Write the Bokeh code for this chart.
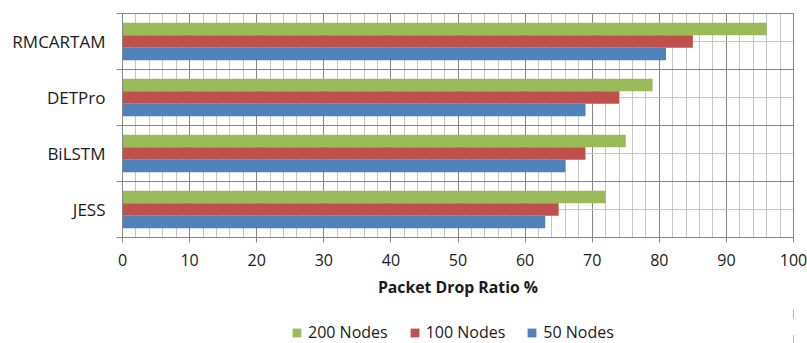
from bokeh.plotting import figure
from bokeh.layouts import column
from bokeh.models import (FactorRange, Range1d, LinearAxis, CategoricalAxis, FixedTicker,
                          SingleIntervalTicker, Legend, LegendItem, ColumnDataSource)
from bokeh.transform import dodge
from bokeh.embed import file_html
from bokeh.resources import INLINE

categories = ["RMCARTAM", "DETPro", "BiLSTM", "JESS"]
nodes_200 = [96, 79, 75, 72]
nodes_100 = [85, 74, 69, 65]
nodes_50 = [81, 69, 66, 63]
series_names = ["200 Nodes", "100 Nodes", "50 Nodes"]
series_fields = ["n200", "n100", "n50"]
series_colors = ["#9bbb59", "#c0504d", "#4f81bd"]

FONT = "Open Sans"
MAJOR = "#878787"
MINOR = "#c6c6c6"
TXT = "#1a1a1a"

src = ColumnDataSource(dict(cat=categories, n200=nodes_200, n100=nodes_100, n50=nodes_50))

p = figure(frame_width=671, frame_height=224, output_backend="svg", toolbar_location=None,
           y_range=FactorRange(factors=categories[::-1]), x_range=Range1d(0, 100),
           y_axis_location=None,
           min_border_left=122, min_border_right=14, min_border_top=13, min_border_bottom=72)
p.outline_line_color = MAJOR
p.background_fill_color = "white"
p.border_fill_color = "white"

bh = 0.224
offsets = [bh, 0, -bh]
for field, col, off in zip(series_fields, series_colors, offsets):
    p.hbar(y=dodge("cat", off, range=p.y_range), right=field, left=0, height=bh,
           source=src, fill_color=col, line_color=None)

# x axis
xt = SingleIntervalTicker(interval=10, num_minor_ticks=5)
xa = p.xaxis[0]
xa.ticker = xt
xa.axis_line_color = MAJOR
xa.major_tick_line_color = MAJOR
xa.major_tick_out = 5
xa.major_tick_in = 0
xa.minor_tick_out = 0
xa.minor_tick_in = 0
xa.major_label_text_font = FONT
xa.major_label_text_font_size = "16px"
xa.major_label_text_color = TXT
xa.major_label_standoff = 11
xa.axis_label = "Packet Drop Ratio %"
xa.axis_label_text_font = FONT
xa.axis_label_text_font_size = "15.8px"
xa.axis_label_text_font_style = "bold"
xa.axis_label_text_color = TXT
xa.axis_label_standoff = 7

# grids (category boundaries are at synthetic coordinates 0..n)
n = len(categories)
p.xgrid.ticker = xt
p.xgrid.grid_line_color = MAJOR
p.xgrid.minor_grid_line_color = MINOR
p.ygrid.ticker = FixedTicker(ticks=list(range(0, n + 1)),
                             minor_ticks=[i + 0.5 for i in range(n)])
p.ygrid.grid_line_color = MAJOR
p.ygrid.minor_grid_line_color = MINOR

# left axes: tick marks at category boundaries, then category labels
tick_axis = LinearAxis(ticker=FixedTicker(ticks=list(range(0, n + 1))),
                       axis_line_color=MAJOR, major_tick_line_color=MAJOR,
                       major_tick_out=6, major_tick_in=0, minor_tick_out=0, minor_tick_in=0,
                       major_label_text_font_size="1px", major_label_text_color=None,
                       major_label_standoff=0)
p.add_layout(tick_axis, "left")
cat_axis = CategoricalAxis(axis_line_color=None, major_tick_line_color=None,
                           minor_tick_line_color=None,
                           major_label_text_font=FONT, major_label_text_font_size="17px",
                           major_label_text_color=TXT, major_label_standoff=5)
p.add_layout(cat_axis, "left")

# legend strip below the chart; its swatches come from copies of the series
# that fall outside this strip's visible x range (so only the legend shows)
lf = figure(width=807, height=34, output_backend="svg", toolbar_location=None,
            x_axis_location=None, y_axis_location=None, min_border=0,
            x_range=Range1d(-2, -1), y_range=Range1d(0, 1))
lf.outline_line_color = None
lf.grid.visible = False
lsrc = ColumnDataSource(dict(pos=list(range(n)), n200=nodes_200, n100=nodes_100, n50=nodes_50))
items = []
for name, field, col in zip(series_names, series_fields, series_colors):
    r = lf.hbar(y="pos", right=field, left=0, height=0.5, source=lsrc,
                fill_color=col, line_color=None)
    items.append(LegendItem(label=name, renderers=[r]))
legend = Legend(items=items, orientation="horizontal", location=(169, 0),
                glyph_width=11, glyph_height=11, label_standoff=6, spacing=21,
                label_text_font=FONT, label_text_font_size="16px", label_text_color=TXT,
                border_line_color=None, background_fill_alpha=0,
                padding=0, margin=0)
lf.add_layout(legend, "center")

layout = column(p, lf, spacing=0)
open("out.html", "w").write(file_html(layout, INLINE))
